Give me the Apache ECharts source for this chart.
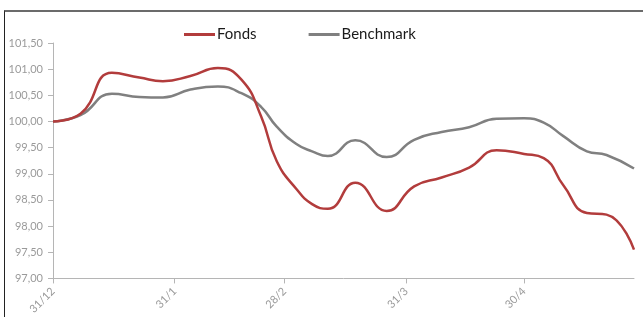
<!DOCTYPE html>
<html>
<head>
<meta charset="utf-8">
<script src="https://cdn.jsdelivr.net/npm/echarts@6/dist/echarts.min.js"></script>
<style>
  html, body { margin: 0; padding: 0; background: #fff; }
  #wrap { position: relative; width: 643px; height: 317px; overflow: hidden; }
  #frame { position: absolute; left: 4px; top: 10px; width: 700px; height: 400px;
           border-top: 2px solid #6b6b6b; border-left: 1px solid #222; }
  #chart { position: absolute; left: 0; top: 0; width: 643px; height: 317px; }
</style>
</head>
<body>
<div id="wrap">
  <div id="frame"></div>
  <div id="chart"></div>
</div>
<script>
// Days since 31/12 for each observation
const days = [0, 7, 15, 22, 28, 35, 42, 48, 53, 57, 62, 66, 70, 77, 85, 92, 99, 106, 113, 120, 125, 130, 136, 141, 148];
const fonds = [100.00, 100.15, 100.93, 100.84, 100.77, 100.87, 101.02, 100.80, 100.10, 99.24, 98.71, 98.42, 98.33, 98.83, 98.29, 98.76, 98.93, 99.12, 99.45, 99.38, 99.30, 98.78, 98.25, 98.22, 97.55];
const benchmark = [100.00, 100.12, 100.53, 100.47, 100.46, 100.61, 100.67, 100.54, 100.28, 99.90, 99.57, 99.43, 99.34, 99.64, 99.32, 99.65, 99.80, 99.89, 100.05, 100.06, 99.98, 99.72, 99.43, 99.36, 99.10];
// Month-end ticks (days since 31/12) and their labels
const tickDays = [0, 31, 59, 90, 120];
const tickLabels = ['31/12', '31/1', '28/2', '31/3', '30/4'];
const seriesNames = ['Fonds', 'Benchmark'];

const chart = echarts.init(document.getElementById('chart'), null, { renderer: 'canvas' });
const font = 'Lato, "Open Sans", sans-serif';
chart.setOption({
  animation: false,
  backgroundColor: 'transparent',
  legend: {
    left: 179, top: 22,
    itemWidth: 31, itemHeight: 3, itemGap: 52,
    icon: 'rect',
    textStyle: { fontFamily: font, fontSize: 15, color: '#1a1a1a', padding: [0, 0, 0, -3] },
    data: seriesNames
  },
  grid: { left: 53, right: 9, top: 43, bottom: 32, containLabel: false },
  xAxis: {
    type: 'value', min: 0, max: 148,
    splitLine: { show: false },
    axisLine: { show: true, lineStyle: { color: '#b5b5b5', width: 1 } },
    axisTick: { show: true, customValues: tickDays, length: 5, lineStyle: { color: '#b5b5b5' } },
    axisLabel: {
      customValues: tickDays, rotate: 45, margin: 11,
      fontFamily: font, fontSize: 11, color: '#9a9a9a',
      formatter: v => tickLabels[tickDays.indexOf(v)]
    }
  },
  yAxis: {
    type: 'value', min: 97, max: 101.5, interval: 0.5,
    splitLine: { show: false },
    axisLine: { show: true, lineStyle: { color: '#b5b5b5', width: 1 } },
    axisTick: { show: true, length: 5, lineStyle: { color: '#b5b5b5' } },
    axisLabel: {
      margin: 10, fontFamily: font, fontSize: 11, color: '#9a9a9a',
      formatter: v => v.toFixed(2).replace('.', ',')
    }
  },
  series: [
    {
      name: seriesNames[0], type: 'line', smooth: 0.5, showSymbol: false, symbol: 'none',
      data: days.map((d, i) => [d, fonds[i]]),
      lineStyle: { color: '#b23c3c', width: 2.5 }, itemStyle: { color: '#b23c3c' }, z: 3
    },
    {
      name: seriesNames[1], type: 'line', smooth: 0.5, showSymbol: false, symbol: 'none',
      data: days.map((d, i) => [d, benchmark[i]]),
      lineStyle: { color: '#808080', width: 2.5 }, itemStyle: { color: '#808080' }, z: 2
    }
  ]
});
</script>
</body>
</html>
